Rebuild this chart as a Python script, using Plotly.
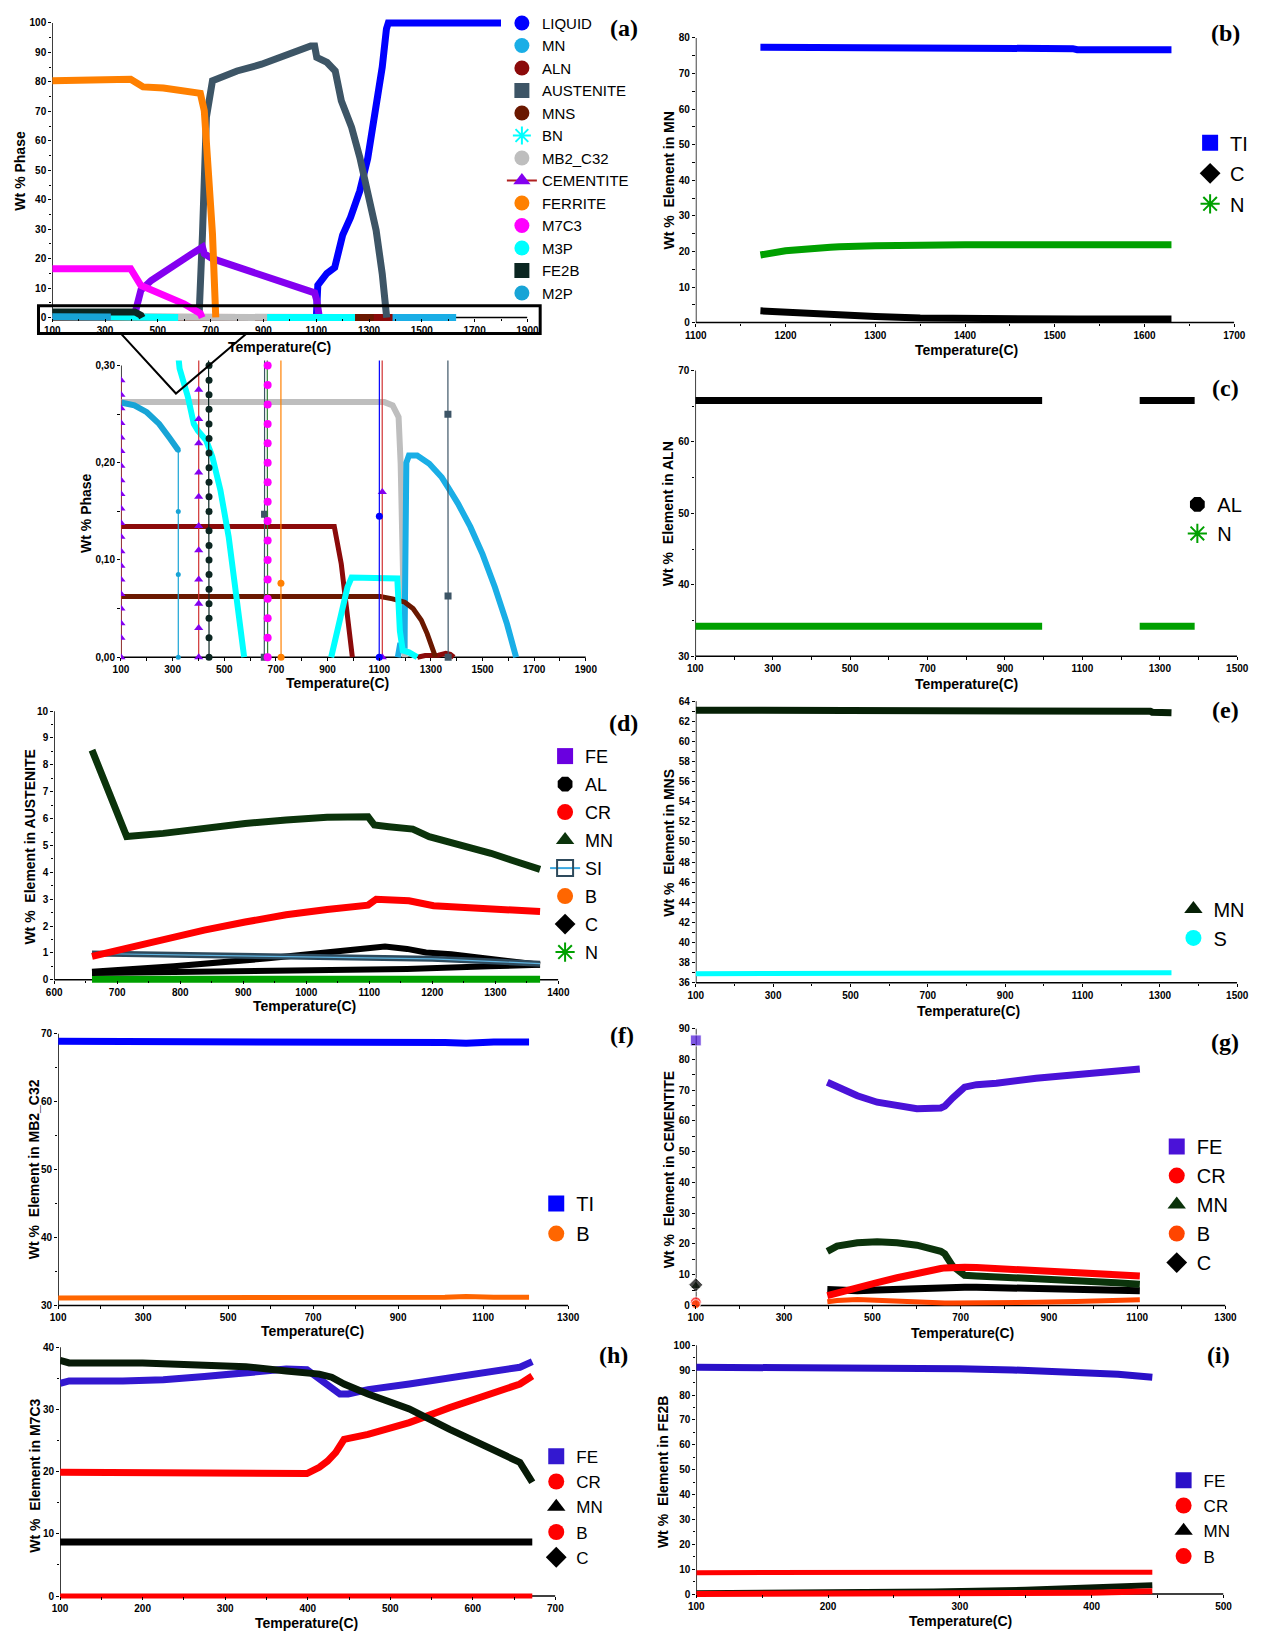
import plotly.graph_objects as go

W, H = 1262, 1639
SANS = "Liberation Sans, Arial, Helvetica, sans-serif"
NARROW = "Liberation Sans Narrow, Arial Narrow, Liberation Sans, Arial, sans-serif"
SERIF = "Liberation Serif, Times New Roman, serif"

# ================= DATA =================
# ---- (a) Wt % phase vs temperature ----
a_liquid_T = [1100, 1100.5, 1106, 1140, 1170, 1200, 1230, 1265, 1295, 1325, 1350, 1366, 1373, 1450, 1800]
a_liquid_wt = [0, 0.145, 11, 15, 17, 28, 34, 43, 54, 70, 85, 98, 100, 100, 100]

a_aus_T = [655, 656, 669, 684, 707, 738, 800, 893, 986, 1079, 1094, 1102, 1141, 1172, 1195, 1234, 1265,
           1296, 1327, 1350, 1366, 1366.5, 1367]
a_aus_wt = [0, 0.147, 28, 68, 80.4, 81.5, 83.7, 86, 89.4, 92.2, 92.2, 88.3, 86.6, 83.7, 73.6, 64.6, 54.4,
            43.1, 29.6, 14.9, 0.25, 0.063, 0]

a_fer_T = [100, 211, 304, 366, 397, 428, 444, 521, 599, 661, 676, 692, 707, 719.5, 720]
a_fer_wt = [80.4, 80.6, 80.9, 80.6, 80.9, 79.2, 78.3, 77.9, 77.2, 76.1, 70.2, 51, 28.4, 0.076, 0]

a_cem_T = [100, 100, 100, 100, 100, 100, 100, 100, 100, 100, 100, 100, 100, 100, 100, 100, 100, 100, 100, 100, None,
           401, 401, 401, 401, 401, 401, 401, 401, 401, 401, 401,
           415, 436, 475, 521, 568, 630, 669, 676, 707, 785, 862, 924, 986, 1064, 1094, 1102, 1112, 1112]
a_cem_wt = [0.285, 0.27, 0.256, 0.241, 0.226, 0.212, 0.197, 0.182, 0.168, 0.153, 0.138, 0.124, 0.109, 0.094, 0.08,
            0.065, 0.05, 0.035, 0.02, 0, None,
            0, 0.03, 0.055, 0.08, 0.11, 0.135, 0.165, 0.19, 0.22, 0.245, 0.275,
            2.0, 9.3, 12.6, 15.5, 18.3, 21.7, 23.9, 21.7, 20.0, 17.7, 15.5, 13.8, 11.5, 9.3, 8.4, 5.9, 0.17, 0]

a_m7c3_T = [100, 397, 436, 521, 599, 661, 668, 668, 668, 668, 668, 668, 668, 668, 668, 668, 668, 668, 668, 668,
            668, 668]
a_m7c3_wt = [16.6, 16.6, 10.9, 7.6, 4.7, 1.4, 0.3, 0.28, 0.26, 0.24, 0.22, 0.2, 0.18, 0.16, 0.14, 0.12, 0.1,
             0.08, 0.06, 0.04, 0.02, 0]

a_fe2b_T = [100, 413, 436, 441, 441, 441, 441, 441, 441, 441, 441, 441, 441, 441, 441, 441, 441, 441, 441, 441,
            441, 441, 441]
a_fe2b_wt = [1.9, 1.9, 0.8, 0.3, 0.285, 0.27, 0.255, 0.24, 0.225, 0.21, 0.195, 0.18, 0.165, 0.15, 0.13,
             0.115, 0.1, 0.085, 0.07, 0.055, 0.04, 0.02, 0]

a_mb2_T = [100, 700, 1120, 1152, 1175, 1183, 1191, 1199]
a_mb2_wt = [0.2624, 0.2624, 0.2624, 0.259, 0.247, 0.199, 0.096, 0]

a_m2p_T = [100, 152, 200, 248, 287, 322]
a_m2p_wt = [0.262, 0.259, 0.252, 0.240, 0.226, 0.213]
a_m2p_end_T = [322, 322, 322, 322]
a_m2p_end_wt = [0.213, 0.15, 0.085, 0]

a_mn_T = [1172, 1180, 1198, 1205, 1215, 1247, 1294, 1342, 1366, 1405, 1453, 1500, 1548, 1595, 1630]
a_mn_wt = [0, 0.012, 0.012, 0.2, 0.2075, 0.2075, 0.199, 0.185, 0.175, 0.158, 0.134, 0.106, 0.072, 0.034, 0]

a_aln_T = [100, 926, 953, 977, 996, None, 1248, 1278, 1330, 1358, 1375, 1389]
a_aln_wt = [0.1345, 0.1345, 0.096, 0.045, 0, None, 0, 0.0017, 0.002, 0.004, 0.003, 0]

a_mns_T = [100, 1104, 1152, 1199, 1231, 1263, 1286, 1307, 1318]
a_mns_wt = [0.0624, 0.0624, 0.060, 0.0566, 0.05, 0.038, 0.024, 0.010, 0]

a_m3p_T = [322, 327, 359, 382, 398, 430, 454, 485, 517, 549, 577, None,
           914, 946, 977, 993, 1056, 1136, 1170, 1180, 1191, 1215, 1247]
a_m3p_wt = [0.31, 0.297, 0.268, 0.240, 0.233, 0.223, 0.206, 0.172, 0.124, 0.062, 0, None,
            0, 0.034, 0.072, 0.082, 0.082, 0.081, 0.081, 0.027, 0.007, 0.005, 0]

a_legend = ["LIQUID", "MN", "ALN", "AUSTENITE", "MNS", "BN", "MB2_C32", "CEMENTITE", "FERRITE",
            "M7C3", "M3P", "FE2B", "M2P"]

# ---- (b) MN ----
b_T = [1172, 1200, 1250, 1255, 1260, 1300, 1350, 1400, 1500, 1520, 1525, 1630]
b_ti = [77.4, 77.4, 77.4, 77.4, 77.0, 77.0, 77.0, 77.0, 77.0, 77.0, 76.7, 76.7]
b_c = [3.3, 2.9, 2.3, 2.2, 2.2, 1.7, 1.3, 1.1, 1.05, 1.0, 1.0, 1.0]
b_n = [19.0, 20.2, 21.2, 21.3, 21.3, 21.6, 21.9, 21.9, 21.9, 21.9, 21.9, 21.9]

# ---- (c) ALN ----
c_T = [100, 996, None, 1248, 1390]
c_al = [65.8, 65.8, None, 65.8, 65.8]
c_n = [34.2, 34.2, None, 34.2, 34.2]

# ---- (d) AUSTENITE ----
d_mn_T = [660, 715, 773, 838, 903, 968, 1033, 1098, 1108, 1131, 1169, 1195, 1228, 1260, 1293, 1325, 1358, 1371]
d_mn = [8.55, 5.33, 5.45, 5.64, 5.82, 5.95, 6.05, 6.07, 5.76, 5.70, 5.61, 5.33, 5.14, 4.96, 4.71, 4.46, 4.21, 4.11]
d_cr_T = [660, 708, 773, 838, 903, 968, 1033, 1098, 1111, 1163, 1202, 1260, 1371]
d_cr = [0.87, 1.15, 1.5, 1.85, 2.15, 2.42, 2.62, 2.78, 3.0, 2.94, 2.76, 2.7, 2.54]
d_si_T = [660, 800, 950, 1100, 1200, 1300, 1371]
d_si = [0.98, 0.93, 0.88, 0.84, 0.78, 0.68, 0.60]
d_c_T = [660, 790, 940, 1045, 1100, 1125, 1160, 1190, 1230, 1290, 1371]
d_c = [0.3, 0.5, 0.8, 1.05, 1.2, 1.24, 1.15, 1.02, 0.95, 0.78, 0.56]
d_al_T = [660, 840, 1030, 1160, 1290, 1371]
d_al = [0.25, 0.3, 0.36, 0.4, 0.5, 0.56]
d_n_T = [660, 1371]
d_n = [0.02, 0.02]

# ---- (e) MNS ----
e_T = [100, 1180, 1185, 1275, 1280, 1330]
e_mn = [63.1, 63.1, 63.0, 63.0, 62.9, 62.85]
e_s = [36.9, 36.9, 36.9, 36.95, 37.0, 37.0]

# ---- (f) MB2_C32 ----
f_T = [100, 920, 925, 1010, 1060, 1090, 1125, 1208]
f_ti = [68.9, 68.9, 68.7, 68.7, 68.6, 68.7, 68.8, 68.8]
f_b = [31.1, 31.1, 31.2, 31.2, 31.3, 31.2, 31.2, 31.2]

# ---- (g) CEMENTITE ----
g_T = [398, 420, 466, 511, 556, 601, 655, 664, 682, 709, 736, 781, 871, 962, 1052, 1106]
g_fe = [72.6, 71.0, 68.2, 66.1, 64.8, 64.0, 64.2, 64.8, 67.5, 71.0, 71.8, 72.3, 73.9, 75.0, 76.1, 76.9]
g_cr = [3.2, 4.1, 5.7, 7.4, 9.0, 10.6, 12.0, 12.2, 12.4, 12.4, 12.3, 12.0, 11.4, 10.8, 10.2, 9.6]
g_mn = [17.6, 19.3, 20.4, 20.7, 20.4, 19.6, 17.6, 16.8, 12.8, 9.8, 9.6, 9.2, 8.6, 8.0, 7.4, 6.9]
g_c = [5.2, 5.0, 4.8, 5.0, 5.3, 5.7, 6.0, 6.1, 6.0, 5.9, 5.9, 5.8, 5.6, 5.3, 5.0, 4.8]
g_b = [1.2, 1.6, 1.9, 1.6, 1.2, 0.9, 0.8, 0.8, 0.8, 0.8, 0.8, 0.9, 1.0, 1.3, 1.6, 1.8]
g_at100_T = [100, 100, 100, 100, 100]
g_at100 = [86.2, 6.3, 6.7, 1.0, 0.4]   # FE, MN, C, CR, B

# ---- (h) M7C3 ----
h_fe_T = [100, 111, 176, 225, 275, 325, 374, 399, 414, 424, 439, 449, 473, 523, 572, 622, 657, 672]
h_fe = [34.2, 34.6, 34.6, 34.8, 35.3, 36.0, 36.5, 36.4, 34.9, 33.8, 32.5, 32.5, 33.2, 34.1, 35.0, 36.0, 36.8, 37.7]
h_cr_T = [100, 225, 399, 414, 424, 434, 444, 473, 523, 572, 622, 657, 672]
h_cr = [19.9, 19.7, 19.7, 20.7, 21.7, 23.1, 25.2, 26.0, 27.9, 30.3, 32.5, 34.1, 35.4]
h_mn_T = [100, 111, 200, 275, 325, 374, 414, 429, 444, 473, 523, 572, 622, 657, 672]
h_mn = [37.9, 37.5, 37.5, 37.2, 36.9, 36.2, 35.7, 35.2, 34.1, 32.5, 30.1, 26.8, 23.6, 21.5, 18.3]
h_c_T = [100, 360, 365, 400, 405, 672]
h_c = [8.7, 8.7, 8.6, 8.6, 8.7, 8.7]
h_b_T = [100, 672]
h_b = [0.0, 0.0]

# ---- (i) FE2B ----
i_fe_T = [100, 240, 250, 300, 340, 370, 400, 420, 446]
i_fe = [91.2, 91.2, 91.0, 90.6, 90.1, 89.5, 88.9, 88.4, 87.2]
i_b_T = [100, 330, 335, 446]
i_b = [8.6, 8.6, 8.8, 8.8]
i_mn_T = [100, 200, 280, 350, 400, 446]
i_mn = [0.3, 0.5, 1.0, 1.7, 2.4, 3.5]
i_cr_T = [100, 280, 350, 400, 446]
i_cr = [0.0, 0.1, 0.3, 0.5, 1.1]

# ================= STYLE =================
C_LIQ, C_MN, C_ALN, C_AUS, C_MNS = "#0000FF", "#1AAEE6", "#8B0A0A", "#3D5566", "#6A1800"
C_BN, C_MB2, C_CEM, C_FER, C_M7 = "#00FFFF", "#BEBEBE", "#8400F0", "#FF8000", "#FF00FF"
C_M3P, C_FE2B, C_M2P = "#00FFFF", "#0B2621", "#18A4D6"
C_FE, C_CR, C_MNel, C_SI, C_B, C_N, C_TI = "#4A12D8", "#FF0000", "#0B330B", "#2E4A5C", "#FF6600", "#00A000", "#0000FF"

fig = go.Figure()

# panel geometry: x range, y range, x pixel (left,right), y pixel (bottom, top), x dtick/minor, y dtick/minor
panels = {
    1: ((100, 1900), (0, 100), (42, 526), (317, 22), (200, 100), (10, 5)),
    2: ((100, 1900), (0, 0.30), (112, 585.5), (657, 365), (200, 100), (0.1, 0.05)),
    3: ((1100, 1700), (0, 80), (697.5, 1246), (322, 37), (100, 50), (10, 5)),
    4: ((100, 1500), (30, 70), (697, 1249), (656, 370), (200, 100), (10, 5)),
    5: ((600, 1400), (0, 10), (44, 557.5), (980, 711), (100, 50), (1, 0.5)),
    6: ((100, 1500), (36, 64), (697.5, 1249), (983, 701), (200, 100), (2, 1)),
    7: ((100, 1300), (30, 70), (48, 567.5), (1306, 1034), (200, 100), (10, 5)),
    8: ((100, 1300), (0, 90), (697.5, 1237), (1306, 1029), (200, 100), (10, 5)),
    9: ((100, 700), (0, 40), (50, 554.5), (1597, 1348), (100, 50), (10, 5)),
    10: ((100, 500), (0, 100), (698, 1235), (1595, 1346), (100, 50), (10, 5)),
}

layout_axes = {}
shapes = []
PAD = 5
for n, (xr, yr, px, py, xd, yd) in panels.items():
    sfx = "" if n == 1 else str(n)
    ppu = (py[0] - py[1]) / (yr[1] - yr[0])
    ylo, yhi = yr[0] - PAD / ppu, yr[1] + PAD / ppu
    tickfont = dict(family=NARROW, size=10, color="black", weight="bold")
    xa = dict(domain=[px[0] / W, px[1] / W], range=list(xr), anchor="free", position=1 - py[0] / H,
              showline=False, showgrid=False, zeroline=False, ticks="outside", ticklen=3, tickwidth=1.3,
              tickcolor="black", tick0=xr[0], dtick=xd[0], tickfont=tickfont,
              minor=dict(ticks="outside", dtick=xd[1], tick0=xr[0], ticklen=2.5, tickwidth=1, tickcolor="black"))
    ya = dict(domain=[1 - (py[0] + PAD) / H, 1 - (py[1] - PAD) / H], range=[ylo, yhi], anchor="x" + sfx,
              showline=False, showgrid=False, zeroline=False, ticks="outside", ticklen=3, tickwidth=1.3,
              tickcolor="black", tick0=yr[0], dtick=yd[0], tickfont=tickfont,
              minor=dict(ticks="outside", dtick=yd[1], tick0=yr[0], ticklen=2.5, tickwidth=1, tickcolor="black"))
    if n == 2:
        ya.update(tickmode="array", tickvals=[0, 0.1, 0.2, 0.3], ticktext=["0,00", "0,10", "0,20", "0,30"])
    layout_axes["xaxis" + sfx] = xa
    layout_axes["yaxis" + sfx] = ya
    shapes.append(dict(type="line", xref="x" + sfx, yref="y" + sfx, x0=xr[0], x1=xr[1], y0=yr[0], y1=yr[0],
                       line=dict(color="black", width=1.5), layer="below"))
    shapes.append(dict(type="line", xref="x" + sfx, yref="y" + sfx, x0=xr[0], x1=xr[0], y0=yr[0], y1=yr[1],
                       line=dict(color="black", width=1.5), layer="below"))


def ax(n):
    s = "" if n == 1 else str(n)
    return "x" + s, "y" + s


def line(x, y, color, width, n, mode="lines", marker=None):
    xa, ya = ax(n)
    fig.add_trace(go.Scatter(x=x, y=y, mode=mode, line=dict(color=color, width=width),
                             marker=marker or {}, xaxis=xa, yaxis=ya, showlegend=False,
                             hoverinfo="skip", cliponaxis=True))


def leg(name, symbol, color, legend, size=16, line_color=None):
    mk = dict(symbol=symbol, color=color, size=size)
    if symbol.endswith("open"):
        mk["line"] = dict(color=color, width=2)
    mode = "markers" if line_color is None else "lines+markers"
    fig.add_trace(go.Scatter(x=[None], y=[None], mode=mode, name=name, marker=mk,
                             line=dict(color=line_color or color, width=2), legend=legend,
                             legendgroup=legend + name, showlegend=True, hoverinfo="skip"))


# ---- (a) main panel (thick lines) ----
LW = 7
line(a_liquid_T, a_liquid_wt, C_LIQ, LW, 1)
line(a_mn_T, a_mn_wt, C_MN, LW, 1)
line(a_aln_T, a_aln_wt, C_ALN, LW, 1)
line(a_aus_T, a_aus_wt, C_AUS, LW, 1)
line(a_mns_T, a_mns_wt, C_MNS, LW, 1)
line(a_mb2_T, a_mb2_wt, C_MB2, LW, 1)
line(a_cem_T, a_cem_wt, C_CEM, LW, 1)
line(a_fer_T, a_fer_wt, C_FER, LW, 1)
line(a_m7c3_T, a_m7c3_wt, C_M7, LW, 1)
line(a_m3p_T, a_m3p_wt, C_M3P, LW, 1)
line(a_fe2b_T, a_fe2b_wt, C_FE2B, LW, 1)
line(a_m2p_T, a_m2p_wt, C_M2P, LW, 1)

# ---- (a) zoomed inset ----
IW = 6
line(a_mb2_T, a_mb2_wt, C_MB2, IW, 2)
line(a_m2p_T, a_m2p_wt, C_M2P, IW, 2)
line(a_mn_T, a_mn_wt, C_MN, IW, 2)
line(a_aln_T, a_aln_wt, C_ALN, 5, 2)
line(a_mns_T, a_mns_wt, C_MNS, 5, 2)
line(a_m3p_T, a_m3p_wt, C_M3P, IW, 2)
line(a_m2p_end_T, a_m2p_end_wt, C_M2P, 1.2, 2, "lines+markers", dict(symbol="circle", size=5, color=C_M2P))
line(a_cem_T, a_cem_wt, "#D03030", 1.2, 2, "lines+markers", dict(symbol="triangle-up", size=8, color=C_CEM))
line(a_fe2b_T, a_fe2b_wt, C_FE2B, 1.2, 2, "lines+markers", dict(symbol="circle", size=7, color=C_FE2B))
line(a_aus_T, a_aus_wt, C_AUS, 1.2, 2, "lines+markers", dict(symbol="square", size=7, color=C_AUS))
line(a_m7c3_T, a_m7c3_wt, "#2E7D32", 1.2, 2, "lines+markers", dict(symbol="circle", size=8, color=C_M7))
line(a_fer_T, a_fer_wt, C_FER, 1.2, 2, "lines+markers", dict(symbol="circle", size=7, color=C_FER))
line(a_liquid_T, a_liquid_wt, C_LIQ, 1.2, 2, "lines+markers", dict(symbol="circle", size=7, color=C_LIQ))

# ---- (b) ----
line(b_T, b_ti, C_TI, LW, 3)
line(b_T, b_n, C_N, LW, 3)
line(b_T, b_c, "black", LW, 3)
# ---- (c) ----
line(c_T, c_al, "black", LW, 4)
line(c_T, c_n, C_N, LW, 4)
# ---- (d) ----
line(d_n_T, d_n, C_N, LW, 5)
line(d_al_T, d_al, "black", 6, 5)
line(d_c_T, d_c, "black", 6, 5)
line(d_si_T, d_si, C_SI, 6, 5)
line(d_si_T, d_si, "#5FB4E0", 1.2, 5)
line(d_cr_T, d_cr, C_CR, LW, 5)
line(d_mn_T, d_mn, C_MNel, LW, 5)
# ---- (e) ----
line(e_T, e_mn, "#062006", LW, 6)
line(e_T, e_s, "#00FFFF", 5, 6)
# ---- (f) ----
line(f_T, f_ti, C_TI, LW, 7)
line(f_T, f_b, C_B, 5, 7)
# ---- (g) ----
line(g_T, g_fe, C_FE, LW, 8)
line(g_T, g_b, "#FF4500", 5, 8)
line(g_T, g_c, "black", LW, 8)
line(g_T, g_mn, C_MNel, LW, 8)
line(g_T, g_cr, C_CR, LW, 8)
fig.add_trace(go.Scatter(x=g_at100_T, y=g_at100, mode="markers", xaxis="x8", yaxis="y8", showlegend=False,
                         hoverinfo="skip", cliponaxis=False,
                         marker=dict(symbol=["square", "triangle-up", "diamond", "circle", "circle"],
                                     color=[C_FE, C_MNel, "black", C_CR, "#FF4500"], size=[11, 10, 11, 11, 9])))
# ---- (h) ----
line(h_b_T, h_b, C_CR, 5, 9)
line(h_c_T, h_c, "black", LW, 9)
line(h_fe_T, h_fe, "#3318D0", LW, 9)
line(h_cr_T, h_cr, C_CR, LW, 9)
line(h_mn_T, h_mn, "#071A07", LW, 9)
# ---- (i) ----
line(i_fe_T, i_fe, "#2A10C8", LW, 10)
line(i_b_T, i_b, C_CR, 5, 10)
line(i_mn_T, i_mn, "#071A07", 6, 10)
line(i_cr_T, i_cr, C_CR, 6, 10)

# ================= LEGENDS =================
a_syms = [("circle", C_LIQ, None), ("circle", C_MN, None), ("circle", C_ALN, None), ("square", C_AUS, None),
          ("circle", C_MNS, None), ("asterisk-open", C_BN, None), ("circle", C_MB2, None),
          ("triangle-up", C_CEM, "#B02020"), ("circle", C_FER, None), ("circle", C_M7, None),
          ("circle", C_M3P, None), ("square", C_FE2B, None), ("circle", C_M2P, None)]
for name, (sym, col, lc) in zip(a_legend, a_syms):
    leg(name, sym, col, "legend", 15, lc)

leg("TI", "square", C_TI, "legend2"); leg("C", "diamond", "black", "legend2"); leg("N", "asterisk-open", C_N, "legend2")
leg("AL", "octagon", "black", "legend3"); leg("N", "asterisk-open", C_N, "legend3")
leg("FE", "square", "#6A00E0", "legend4"); leg("AL", "octagon", "black", "legend4"); leg("CR", "circle", C_CR, "legend4")
leg("MN", "triangle-up", C_MNel, "legend4"); leg("SI", "square-open", C_SI, "legend4", 16, "#3BA8E0")
leg("B", "circle", C_B, "legend4"); leg("C", "diamond", "black", "legend4"); leg("N", "asterisk-open", C_N, "legend4")
leg("MN", "triangle-up", "#062006", "legend5"); leg("S", "circle", "#00FFFF", "legend5")
leg("TI", "square", C_TI, "legend6"); leg("B", "circle", C_B, "legend6")
leg("FE", "square", C_FE, "legend7"); leg("CR", "circle", C_CR, "legend7"); leg("MN", "triangle-up", C_MNel, "legend7")
leg("B", "circle", "#FF4500", "legend7"); leg("C", "diamond", "black", "legend7")
leg("FE", "square", "#3318D0", "legend8"); leg("CR", "circle", C_CR, "legend8"); leg("MN", "triangle-up", "black", "legend8")
leg("B", "circle", C_CR, "legend8"); leg("C", "diamond", "black", "legend8")
leg("FE", "square", "#2A10C8", "legend9"); leg("CR", "circle", C_CR, "legend9"); leg("MN", "triangle-up", "black", "legend9")
leg("B", "circle", C_CR, "legend9")


def legend_cfg(mx, my, fs, spacing):
    item_h = max(fs * 1.3, 16) + 3
    gap = max(spacing - item_h, 0)
    return dict(x=(mx - 20) / W, y=1 - (my - item_h / 2 - 6) / H, xanchor="left", yanchor="top",
                bgcolor="rgba(0,0,0,0)", borderwidth=0, font=dict(family=SANS, size=fs, color="black"),
                itemsizing="trace", tracegroupgap=gap, traceorder="grouped")


legends = {
    "legend": legend_cfg(520, 23, 15, 22.5),
    "legend2": legend_cfg(1221, 143, 20, 30.5),
    "legend3": legend_cfg(1208, 505, 20, 29),
    "legend4": legend_cfg(564, 757, 18, 28),
    "legend5": legend_cfg(1204, 910, 20, 29),
    "legend6": legend_cfg(555, 1205, 20, 30),
    "legend7": legend_cfg(1187, 1148, 20, 28.75),
    "legend8": legend_cfg(555, 1458, 17, 25.25),
    "legend9": legend_cfg(1194, 1482, 17, 25.3),
}

# ================= ANNOTATIONS =================
anns = []


def ann(text, x, y, size=14, angle=0, family=SANS):
    anns.append(dict(text="<b>" + text + "</b>", x=x / W, y=1 - y / H, xref="paper", yref="paper", showarrow=False,
                     textangle=angle, font=dict(family=family, size=size, color="black"),
                     xanchor="center", yanchor="middle"))


for t, x, y in [("Temperature(C)", 273, 346), ("Temperature(C)", 333, 683), ("Temperature(C)", 973, 349),
                ("Temperature(C)", 973, 684), ("Temperature(C)", 299, 1006), ("Temperature(C)", 975, 1011),
                ("Temperature(C)", 307, 1332), ("Temperature(C)", 969, 1334), ("Temperature(C)", 301, 1624),
                ("Temperature(C)", 967, 1622)]:
    ann(t, x, y, 14)

for t, x, y in [("Wt % Phase", 9, 170), ("Wt % Phase", 77, 513), ("Wt %  Element in MN", 670, 180),
                ("Wt %  Element in ALN", 670, 513), ("Wt %  Element in AUSTENITE", 19, 847),
                ("Wt %  Element in MNS", 670, 843), ("Wt %  Element in MB2_C32", 23, 1170),
                ("Wt %  Element in CEMENTITE", 670, 1170), ("Wt %  Element in M7C3", 25, 1477),
                ("Wt %  Element in FE2B", 664, 1473)]:
    ann(t, x, y, 14, -90)

for t, x, y in [("(a)", 624, 27), ("(b)", 1237, 32), ("(c)", 1237, 387), ("(d)", 624, 723), ("(e)", 1237, 710),
                ("(f)", 622, 1035), ("(g)", 1237, 1042), ("(h)", 614, 1356), ("(i)", 1230, 1356)]:
    ann(t, x, y, 24, 0, SERIF)

# zoom box and connecting V in panel (a)
shapes.append(dict(type="rect", xref="paper", yref="paper", x0=28 / W, x1=539 / W, y0=1 - 333 / H, y1=1 - 305 / H,
                   line=dict(color="black", width=3), fillcolor="rgba(0,0,0,0)", layer="above"))
shapes.append(dict(type="path", xref="paper", yref="paper",
                   path="M %f,%f L %f,%f L %f,%f" % (112 / W, 1 - 333 / H, 168 / W, 1 - 393 / H, 240 / W, 1 - 333 / H),
                   line=dict(color="black", width=2), layer="above"))

fig.update_layout(width=W, height=H, margin=dict(l=0, r=0, t=0, b=0), paper_bgcolor="white",
                  plot_bgcolor="rgba(0,0,0,0)", shapes=shapes, annotations=anns, **layout_axes, **legends,
                  font=dict(family=SANS, color="black"))

fig.write_html("out.html")
